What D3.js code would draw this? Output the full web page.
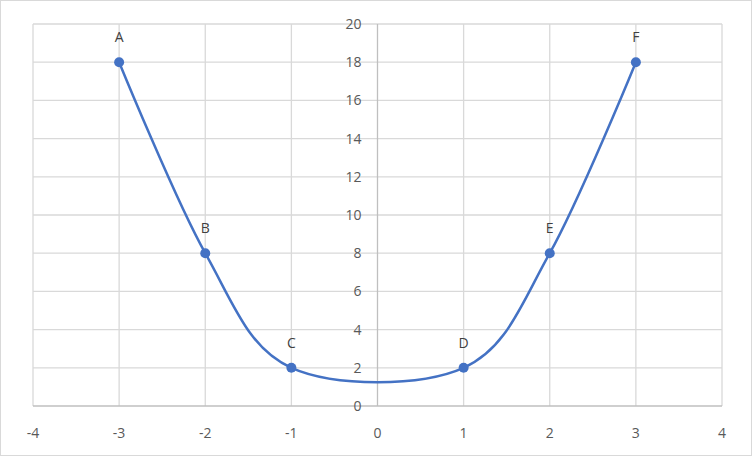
<!DOCTYPE html>
<html>
<head>
<meta charset="utf-8">
<script src="https://cdn.jsdelivr.net/npm/d3@7"></script>
<style>
  body { margin: 0; background: #fff; }
  svg text { font-family: "Open Sans", "Noto Sans", sans-serif; }
</style>
</head>
<body>
<div id="chart"></div>
<script>
// data points
const labels = ['A', 'B', 'C', 'D', 'E', 'F'];
const xValues = [-3, -2, -1, 1, 2, 3];
const yValues = [18, 8, 2, 2, 8, 18];
const xTicks = [-4, -3, -2, -1, 0, 1, 2, 3, 4];
const yTicks = [0, 2, 4, 6, 8, 10, 12, 14, 16, 18, 20];

const width = 752, height = 456;
const margin = {top: 24, right: 30, bottom: 50, left: 33};

const svg = d3.select('#chart')
    .append('svg')
    .attr('width', width)
    .attr('height', height);

// outer chart border
svg.append('rect')
    .attr('x', 0.5).attr('y', 0.5)
    .attr('width', width - 1).attr('height', height - 1)
    .attr('fill', '#fff')
    .attr('stroke', '#d9d9d9');

const x = d3.scaleLinear().domain([-4, 4]).range([margin.left, width - margin.right]);
const y = d3.scaleLinear().domain([0, 20]).range([height - margin.bottom, margin.top]);

const data = xValues.map((v, i) => ({x: v, y: yValues[i], label: labels[i]}));

// gridlines
svg.append('g')
    .selectAll('line')
    .data(yTicks.filter(d => d !== 0))
    .enter().append('line')
    .attr('x1', x(-4)).attr('x2', x(4))
    .attr('y1', d => y(d)).attr('y2', d => y(d))
    .attr('stroke', '#d9d9d9').attr('stroke-width', 1.3);

svg.append('g')
    .selectAll('line')
    .data(xTicks.filter(d => d !== 0))
    .enter().append('line')
    .attr('x1', d => x(d)).attr('x2', d => x(d))
    .attr('y1', y(0)).attr('y2', y(20))
    .attr('stroke', '#d9d9d9').attr('stroke-width', 1.3);

// axes lines
svg.append('line')
    .attr('x1', x(-4)).attr('x2', x(4))
    .attr('y1', y(0)).attr('y2', y(0))
    .attr('stroke', '#bfbfbf').attr('stroke-width', 1.3);
svg.append('line')
    .attr('x1', x(0)).attr('x2', x(0))
    .attr('y1', y(0)).attr('y2', y(20))
    .attr('stroke', '#bfbfbf').attr('stroke-width', 1.3);

// tick labels
svg.append('g')
    .selectAll('text')
    .data(xTicks)
    .enter().append('text')
    .attr('x', d => x(d))
    .attr('y', y(0) + 32)
    .attr('text-anchor', 'middle')
    .attr('font-size', 14)
    .attr('fill', '#595959')
    .text(d => d);

svg.append('g')
    .selectAll('text')
    .data(yTicks)
    .enter().append('text')
    .attr('x', x(0) - 16)
    .attr('y', d => y(d))
    .attr('dy', '0.35em')
    .attr('text-anchor', 'end')
    .attr('font-size', 14)
    .attr('fill', '#595959')
    .text(d => d);

// smoothed line, Excel style
const line = d3.line()
    .x(d => x(d.x))
    .y(d => y(d.y))
    .curve(d3.curveCardinal.tension(0));

svg.append('path')
    .datum(data)
    .attr('d', line)
    .attr('fill', 'none')
    .attr('stroke', '#4472c4')
    .attr('stroke-width', 2.5)
    .attr('stroke-linecap', 'round');

svg.append('g')
    .selectAll('circle')
    .data(data)
    .enter().append('circle')
    .attr('cx', d => x(d.x))
    .attr('cy', d => y(d.y))
    .attr('r', 5)
    .attr('fill', '#4472c4');

svg.append('g')
    .selectAll('text')
    .data(data)
    .enter().append('text')
    .attr('x', d => x(d.x))
    .attr('y', d => y(d.y) - 20)
    .attr('text-anchor', 'middle')
    .attr('font-size', 14)
    .attr('fill', '#404040')
    .text(d => d.label);
</script>
</body>
</html>
